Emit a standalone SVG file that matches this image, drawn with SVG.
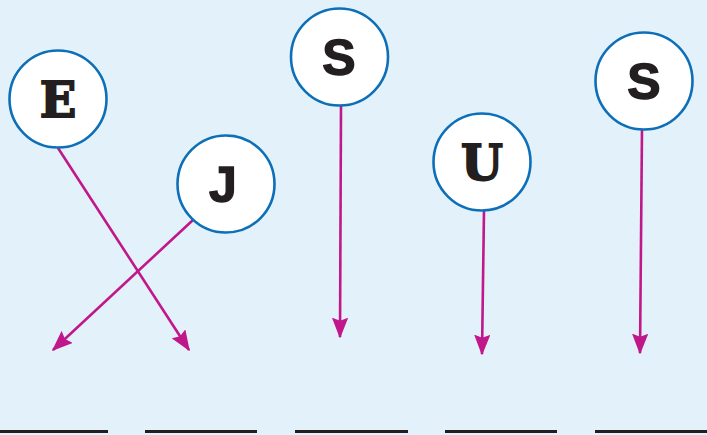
<svg xmlns="http://www.w3.org/2000/svg" width="707" height="435" viewBox="0 0 707 435">
<defs>
<style>
.node circle{fill:#ffffff;stroke:#0d6fb8;stroke-width:2.6}
.lbl{font-weight:bold;fill:#231f20;stroke:#231f20;text-anchor:middle}
.slab{font-family:"DejaVu Serif","Liberation Serif",serif;font-size:48px;stroke-width:1.8}
.sans{font-family:"Liberation Sans","Arial",sans-serif;font-size:50px;stroke-width:1.4}
.conn line{stroke:#c0178a;stroke-width:2.6;fill:none}
.blank{stroke:#231f20;stroke-width:3}
</style>
<marker id="ah" viewBox="0 0 14 11" refX="13" refY="5.5" markerWidth="8" markerHeight="6.3" orient="auto" markerUnits="strokeWidth">
<path d="M0,0 L14,5.5 L0,11 L2,5.5 Z" fill="#c0178a"/>
</marker>
</defs>
<rect width="707" height="435" fill="#e3f2fa"/>
<g id="blanks">
<line class="blank" x1="0" y1="431.5" x2="108" y2="431.5"/>
<line class="blank" x1="145" y1="431.5" x2="257" y2="431.5"/>
<line class="blank" x1="295" y1="431.5" x2="408" y2="431.5"/>
<line class="blank" x1="445" y1="431.5" x2="557" y2="431.5"/>
<line class="blank" x1="595" y1="431.5" x2="707" y2="431.5"/>
</g>
<g id="connectors" class="conn">
<line x1="58" y1="148" x2="189" y2="350" marker-end="url(#ah)"/>
<line x1="193" y1="220" x2="53" y2="350" marker-end="url(#ah)"/>
<line x1="341" y1="106" x2="340" y2="337" marker-end="url(#ah)"/>
<line x1="484" y1="210" x2="482" y2="354" marker-end="url(#ah)"/>
<line x1="642" y1="129" x2="640" y2="353" marker-end="url(#ah)"/>
</g>
<g id="node-E" class="node"><circle cx="58" cy="99" r="48.5"/><text class="lbl slab" x="58" y="116.5">E</text></g>
<g id="node-J" class="node"><circle cx="226" cy="184" r="48.5"/><text class="lbl sans" x="223" y="202">J</text></g>
<g id="node-S1" class="node"><circle cx="339.5" cy="57" r="48.5"/><text class="lbl sans" x="339" y="75">S</text></g>
<g id="node-U" class="node"><circle cx="482" cy="162" r="48.5"/><text class="lbl slab" x="482" y="179.5">U</text></g>
<g id="node-S2" class="node"><circle cx="644" cy="81" r="48.5"/><text class="lbl sans" x="644" y="99">S</text></g>
</svg>
